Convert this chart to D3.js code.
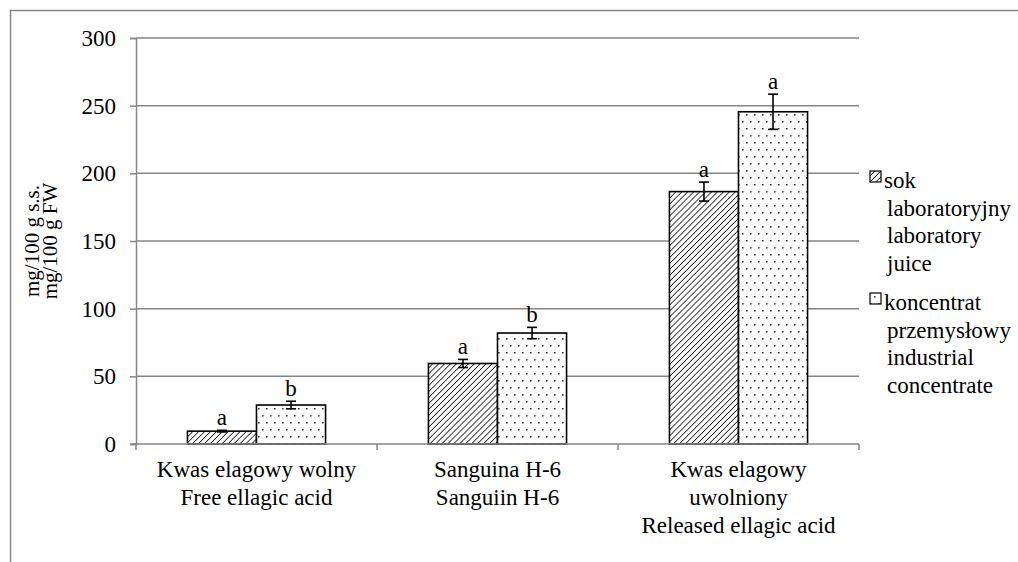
<!DOCTYPE html>
<html><head><meta charset="utf-8">
<script src="https://cdn.jsdelivr.net/npm/d3@7"></script>
<style>body{margin:0;background:#fff}svg{display:block}svg text{font-family:"Liberation Serif","Times New Roman","DejaVu Serif",serif !important;fill:#000}</style>
</head><body><svg id="c" width="1018" height="562"></svg>
<script>
const categories = [["Kwas elagowy wolny","Free ellagic acid"],["Sanguina H-6","Sanguiin H-6"],["Kwas elagowy","uwolniony","Released ellagic acid"]];
const seriesNames = [["sok","laboratoryjny","laboratory","juice"],["koncentrat","przemysłowy","industrial","concentrate"]];
const labValues = [9.5, 59.5, 186.5];
const labErrors = [0.6, 3, 7];
const concValues = [28.8, 82, 245.5];
const concErrors = [2.8, 4.2, 13];
const labLetters = ["a","a","a"];
const concLetters = ["b","b","a"];
const yTicks = [0,50,100,150,200,250,300];

const FONT = "Liberation Serif";
const FS = 23;
const svg = d3.select("#c");
const grid = "#868686";
svg.append("rect").attr("x",10.5).attr("y",10.5).attr("width",1200).attr("height",700).attr("fill","none").attr("stroke",grid).attr("stroke-width",1.5);

const defs = svg.append("defs");
const ph = defs.append("pattern").attr("id","hatch").attr("patternUnits","userSpaceOnUse").attr("width",4.2).attr("height",4.2).attr("patternTransform","rotate(45)");
ph.append("rect").attr("width",4.2).attr("height",4.2).attr("fill","#fff");
ph.append("line").attr("x1",0).attr("y1",0).attr("x2",0).attr("y2",4.2).attr("stroke","#222").attr("stroke-width",1.7);
const pd = defs.append("pattern").attr("id","dots").attr("patternUnits","userSpaceOnUse").attr("width",8).attr("height",14);
pd.append("rect").attr("width",8).attr("height",14).attr("fill","#fff");
pd.append("rect").attr("x",2).attr("y",2).attr("width",1.6).attr("height",1.6).attr("fill","#444");
pd.append("rect").attr("x",6).attr("y",9).attr("width",1.6).attr("height",1.6).attr("fill","#444");

const x0 = 136, x1 = 859, yTop = 38, yBot = 444;
const y = d3.scaleLinear().domain([0,300]).range([yBot,yTop]);
const x = d3.scaleBand().domain(d3.range(categories.length)).range([x0,x1]);
const inner = d3.scaleBand().domain([0,1]).range([0,x.bandwidth()]).paddingOuter(0.745).paddingInner(0);

// gridlines
svg.append("g").selectAll("line").data(yTicks.slice(1)).join("line")
  .attr("x1",x0).attr("x2",x1).attr("y1",d=>y(d)).attr("y2",d=>y(d))
  .attr("stroke",grid).attr("stroke-width",1.5);

// y axis
const ya = svg.append("g").attr("transform",`translate(${x0},0)`).call(d3.axisLeft(y).tickValues(yTicks).tickSize(6).tickPadding(14));
ya.attr("font-family",FONT).attr("font-size",FS);
ya.select(".domain").attr("stroke",grid).attr("stroke-width",1.5);
ya.selectAll(".tick line").attr("stroke",grid).attr("stroke-width",1.5);
ya.selectAll(".tick text").attr("font-size",FS).attr("font-family",FONT).attr("fill","#000");

// bars
const series = [
  {vals:labValues, errs:labErrors, letters:labLetters, fill:"url(#hatch)"},
  {vals:concValues, errs:concErrors, letters:concLetters, fill:"url(#dots)"}
];
series.forEach((s,si)=>{
  const g = svg.append("g");
  g.selectAll("rect").data(s.vals).join("rect")
    .attr("x",(d,i)=>x(i)+inner(si)).attr("width",inner.bandwidth())
    .attr("y",d=>y(d)).attr("height",d=>yBot-y(d))
    .attr("fill",s.fill).attr("stroke","#000").attr("stroke-width",1.6);
  const cx = i=>x(i)+inner(si)+inner.bandwidth()/2;
  s.vals.forEach((v,i)=>{
    const e = s.errs[i];
    g.append("line").attr("x1",cx(i)).attr("x2",cx(i)).attr("y1",y(v+e)).attr("y2",y(v-e)).attr("stroke","#000").attr("stroke-width",1.6);
    [v+e,v-e].forEach(t=>g.append("line").attr("x1",cx(i)-5).attr("x2",cx(i)+5).attr("y1",y(t)).attr("y2",y(t)).attr("stroke","#000").attr("stroke-width",1.6));
    g.append("text").attr("x",cx(i)).attr("y",y(v+e)-5).attr("text-anchor","middle").attr("font-family",FONT).attr("font-size",FS).text(s.letters[i]);
  });
});

// x axis
svg.append("line").attr("x1",x0-6).attr("x2",x1).attr("y1",yBot).attr("y2",yBot).attr("stroke",grid).attr("stroke-width",1.5);
const xt = d3.range(categories.length+1).map(i=>x0+i*x.step());
svg.append("g").selectAll("line").data(xt).join("line").attr("x1",d=>d).attr("x2",d=>d).attr("y1",yBot).attr("y2",yBot+6).attr("stroke",grid).attr("stroke-width",1.5);
categories.forEach((lines,i)=>{
  const cx = x(i)+x.bandwidth()/2;
  const t = svg.append("text").attr("text-anchor","middle").attr("font-family",FONT).attr("font-size",FS).attr("x",cx).attr("y",477);
  lines.forEach((l,j)=>t.append("tspan").attr("x",cx).attr("dy",j?28:0).text(l));
});

// y title
const yt = svg.append("text").attr("transform","translate(39,241) rotate(-90)").attr("text-anchor","middle").attr("font-family",FONT).attr("font-size",21);
yt.append("tspan").attr("x",0).attr("dy",0).text("mg/100 g s.s.");
yt.append("tspan").attr("x",0).attr("dy",18).text("mg/100 g FW");

// legend
const legFills = ["url(#hatch)","url(#dots)"];
const legY = [182, 304];
seriesNames.forEach((lines,i)=>{
  svg.append("rect").attr("x",870).attr("y",legY[i]-11).attr("width",11).attr("height",11).attr("fill",legFills[i]).attr("stroke","#000").attr("stroke-width",1.2);
  const t = svg.append("text").attr("font-family",FONT).attr("font-size",FS).attr("x",884).attr("y",legY[i]+6);
  lines.forEach((l,j)=>t.append("tspan").attr("x",j?887:884).attr("dy",j?27.5:0).text(l));
});
</script></body></html>
